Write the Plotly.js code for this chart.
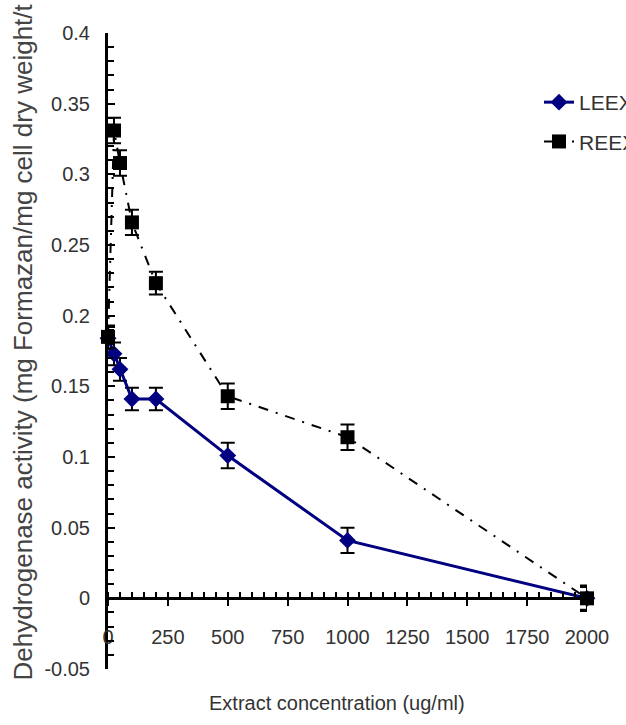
<!DOCTYPE html>
<html>
<head>
<meta charset="utf-8">
<script src="https://cdn.plot.ly/plotly-3.0.1.min.js"></script>
<style>html,body{margin:0;padding:0;background:#fff;}#chart{width:626px;height:725px;}</style>
</head>
<body>
<div id="chart"></div>
<script>
// Data
const concentration = [0, 25, 50, 100, 200, 500, 1000, 2000];
const leexValues = [0.184, 0.173, 0.162, 0.141, 0.141, 0.101, 0.041, 0.0];
const leexErrors = [0.008, 0.008, 0.008, 0.008, 0.008, 0.009, 0.009, 0.008];
const reexValues = [0.185, 0.331, 0.308, 0.266, 0.223, 0.143, 0.114, 0.0];
const reexErrors = [0.008, 0.009, 0.009, 0.009, 0.008, 0.009, 0.009, 0.009];
const xTickVals = [0, 250, 500, 750, 1000, 1250, 1500, 1750, 2000];
const yTickVals = [-0.05, 0, 0.05, 0.1, 0.15, 0.2, 0.25, 0.3, 0.35, 0.4];
const yTickText = ['-0.05', '0', '0.05', '0.1', '0.15', '0.2', '0.25', '0.3', '0.35', '0.4'];

const sans = '"Liberation Sans", Arial, sans-serif';

const traces = [
  {
    x: concentration, y: leexValues, name: 'LEEX', type: 'scatter', mode: 'lines+markers',
    legendgroup: 'a',
    line: {color: '#000080', width: 3},
    marker: {symbol: 'diamond', size: 13, color: '#000080'},
    error_y: {type: 'data', array: leexErrors, visible: true, color: '#000', thickness: 2, width: 7},
    cliponaxis: false
  },
  {
    x: concentration, y: reexValues, name: 'REEX', type: 'scatter', mode: 'lines+markers',
    legendgroup: 'b',
    line: {color: '#000', width: 2, dash: '10px,8px,2px,8px'},
    marker: {symbol: 'square', size: 14, color: '#000'},
    error_y: {type: 'data', array: reexErrors, visible: true, color: '#000', thickness: 2, width: 7},
    cliponaxis: false
  }
];

const layout = {
  width: 626, height: 725,
  margin: {l: 108, r: 39, t: 33, b: 56, autoexpand: false},
  paper_bgcolor: '#fff', plot_bgcolor: '#fff',
  showlegend: true,
  legend: {
    x: (539 - 108) / 479, xanchor: 'left', y: (669 - 82) / 636, yanchor: 'top',
    font: {family: sans, size: 21, color: '#333'},
    bgcolor: 'rgba(0,0,0,0)', tracegroupgap: 9, itemwidth: 30
  },
  xaxis: {
    range: [0, 2000], anchor: 'free', position: 0.05 / 0.45,
    showline: true, linecolor: '#000', linewidth: 3,
    showgrid: false, zeroline: false,
    tickmode: 'array', tickvals: xTickVals, tickangle: 0,
    ticks: 'outside', ticklen: 6, tickwidth: 2, tickcolor: '#000',
    ticklabelstandoff: 14,
    minor: {dtick: 50, ticks: 'inside', ticklen: 5, tickwidth: 2, tickcolor: '#000'},
    tickfont: {family: sans, size: 20, color: '#333'}
  },
  yaxis: {
    range: [-0.05, 0.4],
    showline: true, linecolor: '#000', linewidth: 3,
    showgrid: false, zeroline: false,
    tickmode: 'array', tickvals: yTickVals, ticktext: yTickText,
    ticks: 'inside', ticklen: 7, tickwidth: 2, tickcolor: '#000',
    ticklabelstandoff: 11,
    minor: {dtick: 0.01, ticks: 'inside', ticklen: 6, tickwidth: 2, tickcolor: '#000'},
    tickfont: {family: sans, size: 20, color: '#333'}
  },
  annotations: [
    {
      text: 'Extract concentration (ug/ml)', xref: 'paper', yref: 'paper',
      x: (337 - 108) / 479, y: (669 - 703) / 636, xanchor: 'center', yanchor: 'middle',
      showarrow: false, font: {family: sans, size: 20, color: '#333'}
    },
    {
      text: 'Dehydrogenase activity (mg Formazan/mg cell dry weight/t', xref: 'paper', yref: 'paper',
      x: (22 - 108) / 479, y: (669 - 683) / 636, xanchor: 'center', yanchor: 'bottom',
      textangle: -90, showarrow: false, font: {family: sans, size: 26, color: '#444'}
    }
  ]
};

Plotly.newPlot('chart', traces, layout, {displayModeBar: false, staticPlot: true});
</script>
</body>
</html>
